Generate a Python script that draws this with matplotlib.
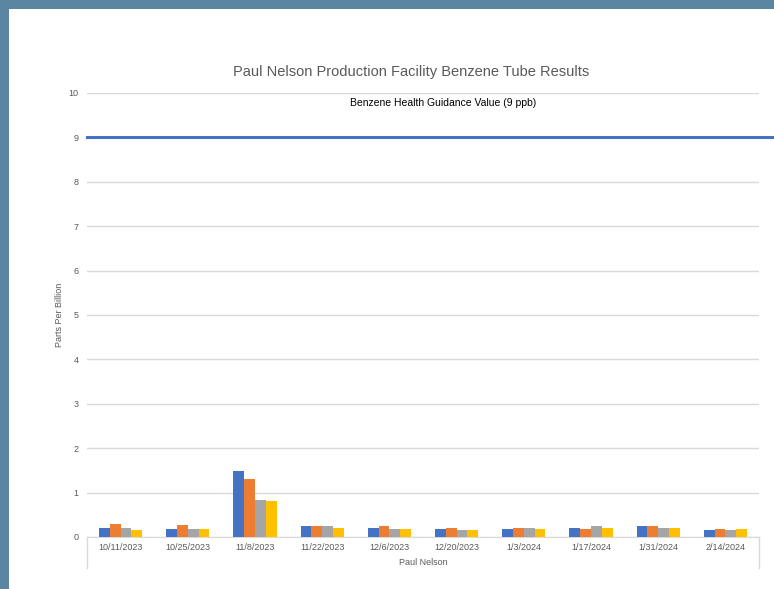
import numpy as np
import matplotlib.pyplot as plt
from matplotlib.patches import Rectangle

plt.rcParams['font.family'] = ['Liberation Sans', 'DejaVu Sans']

# Sampling dates (category axis) and the site name (outer category level)
dates = ['10/11/2023', '10/25/2023', '11/8/2023', '11/22/2023', '12/6/2023',
         '12/20/2023', '1/3/2024', '1/17/2024', '1/31/2024', '2/14/2024']
site = 'Paul Nelson'

# Benzene results per tube (ppb)
tube_1 = [0.21, 0.18, 1.48, 0.24, 0.21, 0.18, 0.18, 0.21, 0.24, 0.15]
tube_2 = [0.30, 0.27, 1.30, 0.24, 0.24, 0.21, 0.21, 0.18, 0.24, 0.18]
tube_3 = [0.21, 0.18, 0.83, 0.24, 0.18, 0.15, 0.21, 0.24, 0.21, 0.15]
tube_4 = [0.15, 0.18, 0.80, 0.21, 0.18, 0.15, 0.18, 0.21, 0.21, 0.18]

guidance_value = 9
guidance_label = 'Benzene Health Guidance Value (9 ppb)'

series = [tube_1, tube_2, tube_3, tube_4]
colors = ['#4472C4', '#ED7D31', '#A5A5A5', '#FFC000']
frame = '#5b86a2'

fig = plt.figure(figsize=(7.74, 5.89), dpi=100)
fig.patch.set_facecolor('white')
# blue frame on top and left of the chart panel
fig.patches.append(Rectangle((0, 1 - 9 / 589), 1, 9 / 589, transform=fig.transFigure,
                             facecolor=frame, edgecolor='none'))
fig.patches.append(Rectangle((0, 0), 9 / 774, 1, transform=fig.transFigure,
                             facecolor=frame, edgecolor='none'))

ax = fig.add_axes([87 / 774, 1 - 537 / 589, (759 - 87) / 774, (537 - 93) / 589])
ax.set_facecolor('white')

x = np.arange(len(dates))
bar_w = 0.16
for k, vals in enumerate(series):
    ax.bar(x + (k - 1.5) * bar_w, vals, bar_w, color=colors[k], zorder=3)

ax.set_xlim(-0.5, len(dates) - 0.5)
ax.set_ylim(0, 10)
ax.set_yticks(range(0, 11))
ax.grid(axis='y', color='#d9d9d9', linewidth=1, zorder=0)
ax.set_axisbelow(True)

for s in ['top', 'right', 'left']:
    ax.spines[s].set_visible(False)
ax.spines['bottom'].set_color('#d9d9d9')

ax.set_xticks(x)
ax.set_xticklabels(dates, fontsize=6.5, color='#595959')
ax.tick_params(axis='x', length=0, pad=4)
ax.tick_params(axis='y', length=0, pad=6, labelsize=6.5, labelcolor='#595959')

ax.set_ylabel('Parts Per Billion', fontsize=6.5, color='#595959', labelpad=3)

# outer category level: site name with bracket lines
ax.plot([-0.5, -0.5], [0, -0.7], color='#d9d9d9', linewidth=1, clip_on=False)
ax.plot([len(dates) - 0.5, len(dates) - 0.5], [0, -0.7], color='#d9d9d9', linewidth=1,
        clip_on=False)
ax.text((len(dates) - 1) / 2, -0.57, site, ha='center', va='center', fontsize=6.5,
        color='#595959')

# guidance line across the panel
ax.axhline(guidance_value, xmin=0, xmax=(774 - 87) / (759 - 87), color='#4472C4',
           linewidth=2.2, clip_on=False, zorder=4)
ax.text((len(dates) - 1) / 2 + 0.3, 9.78, guidance_label, ha='center', va='center',
        fontsize=7.5, color='black')

fig.text(411 / 774, 1 - 72 / 589, 'Paul Nelson Production Facility Benzene Tube Results',
         ha='center', va='center', fontsize=10.5, color='#595959')

fig.savefig('out.png', dpi=100, facecolor=fig.get_facecolor())
